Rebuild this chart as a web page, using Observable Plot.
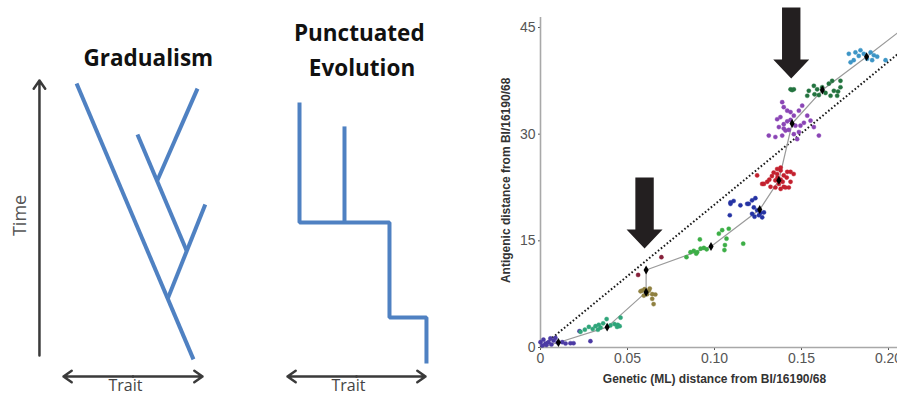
<!DOCTYPE html>
<html><head><meta charset="utf-8">
<script src="https://cdn.jsdelivr.net/npm/d3@7"></script>
<script src="https://cdn.jsdelivr.net/npm/@observablehq/plot@0.6"></script>
<style>
html,body{margin:0;padding:0;background:#fff;}
#fig{position:relative;width:897px;height:397px;overflow:hidden;background:#fff;}
#fig svg{position:absolute;top:0;}
</style></head><body><div id="fig"></div>
<script>
// ---------- Schematic data (trait, time in arbitrary units 0..10) ----------
const gradualTitle = "Gradualism";
const punctTitle = ["Punctuated", "Evolution"];
const timeLabel = "Time";
const traitLabel = "Trait";

// gradualism lineage segments: [trait1, time1, trait2, time2]
const gradualSegments = [
  [0.94, 9.89, 9.35, 0.04],
  [7.50, 2.21, 10.2, 5.57],
  [5.32, 8.07, 8.85, 3.93],
  [6.75, 6.43, 9.64, 9.71]
];
// punctuated lineages: polylines of [trait, time]
const punctMain = [[0.87, 9.21], [0.87, 4.93], [7.39, 4.93], [7.39, 1.54], [10.07, 1.54], [10.07, -0.11]];
const punctSide = [[4.13, 8.36], [4.13, 4.93]];

// ---------- Scatter data: genetic (ML) distance vs antigenic distance ----------
const xTicks = [0, 0.05, 0.10, 0.15, 0.20];
const xTickLabels = ["0", "0.05", "0.10", "0.15", "0.20"];
const yTicks = [0, 15, 30, 45];
const xTitle = "Genetic (ML) distance from BI/16190/68";
const yTitle = "Antigenic distance from BI/16190/68";

const hk68 = [[0,0.75],[0.0017,1.1],[0.0029,0.56],[0.0046,0.75],[0.0057,1.27],[0.0075,0.98],[0.0086,1.34],[0.0098,0.7],[0.0125,0.75],[0.0144,0.56],[0.0172,0.6],[0.019,0.6],[0.0224,2.3],[0.0287,0.89],[0.0011,0.28],[0.0034,0.35],[0.0063,0.42]];
const en72 = [[0.0230,2.2],[0.0255,2.5],[0.0278,2.9],[0.0300,2.6],[0.0316,3.0],[0.0335,3.2],[0.0345,2.8],[0.0360,3.4],[0.0380,4.0],[0.0402,3.1],[0.0425,3.3],[0.0440,2.9],[0.0444,3.2],[0.0455,3.0],[0.0460,4.2],[0.0330,2.5]];
const vi75 = [[0.0584,8.0],[0.0598,8.2],[0.0623,8.0],[0.0613,7.5],[0.0642,7.5],[0.066,7.45],[0.0642,6.84],[0.065,6.1],[0.0594,7.3],[0.0575,7.9],[0.0628,8.3]];
const tx77 = [[0.0561,10.2],[0.0695,12.7]];
const bk79 = [[0.0839,12.7],[0.0862,13.4],[0.0881,13.6],[0.09,13.4],[0.092,13.9],[0.0939,14.0],[0.0916,15.2],[0.1025,16.0],[0.1044,16.5],[0.1069,15.3],[0.1057,13.7],[0.1082,16.7],[0.1165,14.6],[0.106,14.4],[0.0955,13.8],[0.0895,13.2]];
const si87 = [[0.1092,20.2],[0.1110,20.6],[0.1149,20.0],[0.1188,20.2],[0.1216,20.7],[0.1235,21.0],[0.1226,19.7],[0.1245,19.3],[0.1216,18.8],[0.1255,18.6],[0.1088,18.6],[0.1092,20.4],[0.1264,18.9],[0.1274,18.3],[0.1284,19.0],[0.1197,20.2],[0.1230,18.4]];
const be89 = [[0.138,24.9],[0.136,24.4],[0.1398,24.2],[0.133,24.1],[0.135,23.5],[0.138,23.6],[0.1415,23.9],[0.1437,24.7],[0.1455,24.4],[0.1303,23.3],[0.1274,23.0],[0.1322,22.6],[0.137,23.0],[0.1427,22.5],[0.1398,22.6],[0.138,25.3],[0.1245,24.2],[0.135,22.5],[0.1284,23.0],[0.1315,23.6],[0.136,25.1],[0.1418,24.7],[0.1437,23.3],[0.1408,22.5],[0.138,22.3],[0.1340,24.6],[0.1362,23.9],[0.1392,23.3]];
const wu95 = [[0.1389,34.5],[0.1398,33.8],[0.1418,33.3],[0.1379,32.4],[0.136,32.1],[0.137,31.0],[0.1398,31.4],[0.1408,30.5],[0.1437,32.0],[0.1456,32.6],[0.1485,33.3],[0.1504,34.0],[0.1533,32.6],[0.1552,31.9],[0.1494,31.2],[0.1485,30.3],[0.1456,30.0],[0.1427,30.6],[0.1389,29.8],[0.135,29.6],[0.1312,29.8],[0.16,29.8],[0.1571,31.0],[0.1475,29.3],[0.1514,31.6],[0.1437,33.1],[0.1418,31.8],[0.1465,31.2],[0.1398,30.8]];
const sy97 = [[0.1437,36.3],[0.1446,36.2],[0.1456,36.3],[0.1542,36.1],[0.1571,36.8],[0.1533,35.4],[0.1575,35.6],[0.1619,36.6],[0.1657,37.1],[0.1676,37.5],[0.1686,36.1],[0.1705,35.4],[0.1724,36.6],[0.1724,37.5],[0.1710,36.0],[0.1667,35.4],[0.1638,35.8],[0.159,36.3],[0.1600,35.5]];
const fu02 = [[0.1772,41.3],[0.1782,40.1],[0.181,41.5],[0.1829,41.0],[0.1839,41.8],[0.1858,41.3],[0.1877,40.6],[0.1897,41.5],[0.1916,41.1],[0.1935,40.9],[0.18,40.4],[0.1983,40.4],[0.1906,40.4]];

const clusters = [hk68, en72, vi75, tx77, bk79, si87, be89, wu95, sy97, fu02];
const clusterColors = ["#4b3aa4", "#2fa57a", "#8f8040", "#86203a", "#3cae46", "#2533a3", "#c3202e", "#8a45b5", "#23733f", "#3d95c6"];

const centroids = [[0.0103,0.7],[0.0383,2.86],[0.0607,7.78],[0.0607,10.9],[0.098,14.2],[0.126,19.4],[0.137,23.5],[0.1446,31.5],[0.162,36.2],[0.1874,40.9]];
const trajectory = [[0,0],[0.0103,0.7],[0.0383,2.86],[0.0607,7.78],[0.0607,10.9],[0.098,14.2],[0.126,19.4],[0.137,23.5],[0.1446,31.5],[0.162,36.2],[0.1874,40.9],[0.205,44.2]];
const equalLine = [[0,0],[0.205,41.2]];
// arrow tips marking the punctuated jumps
const jumpArrows = [[0.1441,37.83],[0.0598,13.92]];

// ---------- styles ----------
const blue = "#4f81c2";
const ink = "#3a3a3a";
const sans = "'Open Sans', 'Liberation Sans', sans-serif";
const fig = document.getElementById("fig");

function place(svg, left) { svg.style.left = left + "px"; fig.appendChild(svg); }

const traitScale = (r) => ({domain: [0, 10], range: r, axis: null});
const timeScale = {domain: [0, 10], range: [360, 80], axis: null};
const seg = {x1: d => d[0], y1: d => d[1], x2: d => d[2], y2: d => d[3]};

// ---------- Gradualism ----------
const g = Plot.plot({
  width: 240, height: 397, margin: 0,
  x: traitScale([63, 202]), y: timeScale,
  style: {background: "transparent"},
  marks: [
    Plot.arrow([[-1.73, 0.18, -1.73, 10]], {...seg, stroke: ink, strokeWidth: 2.5, headLength: 6, headAngle: 70}),
    Plot.arrow([[5, -0.57, 0, -0.57], [5, -0.57, 10, -0.57]], {...seg, stroke: ink, strokeWidth: 2.5, headLength: 6, headAngle: 70}),
    Plot.link(gradualSegments, {...seg, stroke: blue, strokeWidth: 4}),
    Plot.text([gradualTitle], {x: 6.1, y: 10.79, fontFamily: sans, fontWeight: "bold", fontSize: 22.5, fill: "#111"}),
    Plot.text([timeLabel], {x: -3.09, y: 5.18, rotate: -90, fontFamily: sans, fontSize: 18, fill: "#555"}),
    Plot.text([traitLabel], {x: 4.46, y: -0.92, fontFamily: sans, fontSize: 16, fill: "#444"})
  ]
});
place(g, 0);

// ---------- Punctuated Evolution ----------
const p = Plot.plot({
  width: 220, height: 397, margin: 0,
  x: traitScale([47, 185]), y: timeScale,
  style: {background: "transparent"},
  marks: [
    Plot.arrow([[5, -0.57, 0, -0.57], [5, -0.57, 10, -0.57]], {...seg, stroke: ink, strokeWidth: 2.5, headLength: 6, headAngle: 70}),
    Plot.line(punctMain, {x: d => d[0], y: d => d[1], stroke: blue, strokeWidth: 4, strokeLinejoin: "miter", strokeLinecap: "butt"}),
    Plot.line(punctSide, {x: d => d[0], y: d => d[1], stroke: blue, strokeWidth: 4, strokeLinecap: "butt"}),
    Plot.text(punctTitle, {x: [5.2, 5.4], y: [11.68, 10.43], fontFamily: sans, fontWeight: "bold", fontSize: 22.5, fill: "#111"}),
    Plot.text([traitLabel], {x: 4.42, y: -0.92, fontFamily: sans, fontSize: 16, fill: "#444"})
  ]
});
place(p, 240);

// ---------- Antigenic vs genetic scatter ----------
const blockArrow = {draw(ctx) {
  ctx.moveTo(0, 0); ctx.lineTo(-18, -19); ctx.lineTo(-9.2, -19); ctx.lineTo(-9.2, -71);
  ctx.lineTo(9.2, -71); ctx.lineTo(9.2, -19); ctx.lineTo(18, -19); ctx.closePath();
}};

const s = Plot.plot({
  width: 437, height: 397,
  marginLeft: 80, marginRight: 0, marginTop: 17, marginBottom: 50,
  x: {domain: [0, 0.2], range: [80, 428], ticks: xTicks, tickFormat: d => xTickLabels[xTicks.findIndex(t => Math.abs(t - d) < 1e-9)], tickSize: 3, tickPadding: 3, label: null},
  y: {domain: [0, 45], range: [347, 27], ticks: yTicks, tickSize: 2, tickPadding: 3, label: null},
  style: {background: "transparent", fontFamily: "'Liberation Sans', Arial, sans-serif", fontSize: "14px", color: "#555"},
  marks: [
    Plot.ruleY([0], {stroke: "#a8a8a8", strokeWidth: 1.6}),
    Plot.ruleX([0], {stroke: "#a8a8a8", strokeWidth: 1.6}),
    Plot.line(equalLine, {x: d => d[0], y: d => d[1], stroke: "#1a1a1a", strokeWidth: 2, strokeDasharray: "1.6,2.2", strokeLinecap: "butt"}),
    Plot.line(trajectory, {x: d => d[0], y: d => d[1], stroke: "#9a9a9a", strokeWidth: 1.2}),
    ...clusters.map((c, i) => Plot.dot(c, {x: d => d[0], y: d => d[1], r: 2.1, fill: clusterColors[i], stroke: clusterColors[i], strokeWidth: 0.4})),
    Plot.dot(centroids, {x: d => d[0], y: d => d[1], symbol: "diamond", r: 2.7, fill: "#000"}),
    Plot.dot(jumpArrows, {x: d => d[0], y: d => d[1], symbol: blockArrow, fill: "#231f20"}),
    Plot.text([xTitle], {x: 0.1, frameAnchor: "bottom", lineAnchor: "middle", dy: 32, fontWeight: "bold", fontSize: 12, fill: "#333"}),
    Plot.text([yTitle], {y: 23.5, frameAnchor: "left", textAnchor: "middle", lineAnchor: "middle", dx: -34, rotate: -90, fontWeight: "bold", fontSize: 12, fill: "#333"})
  ]
});
place(s, 460);
</script></body></html>
